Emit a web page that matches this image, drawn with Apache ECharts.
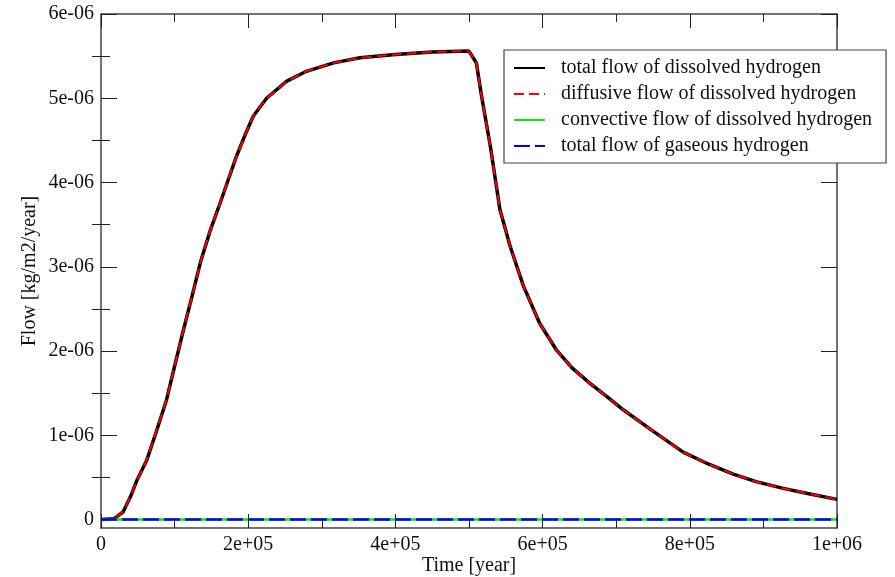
<!DOCTYPE html>
<html>
<head>
<meta charset="utf-8">
<script src="https://cdn.jsdelivr.net/npm/echarts@6/dist/echarts.min.js"></script>
<style>html,body{margin:0;padding:0;background:#fff}#c{width:895px;height:577px}</style>
</head>
<body>
<div id="c"></div>
<script>
// ---- data ----
var time = [0, 1.8e4, 3.0e4, 4.0e4, 4.85e4, 6.2e4, 7.5e4, 8.9e4, 1.0e5, 1.12e5, 1.24e5, 1.35e5, 1.48e5, 1.62e5, 1.74e5, 1.84e5, 1.96e5, 2.07e5, 2.25e5, 2.52e5, 2.79e5, 3.16e5, 3.52e5, 4.0e5, 4.5e5, 5.0e5, 5.1e5, 5.17e5, 5.29e5, 5.42e5, 5.56e5, 5.74e5, 5.96e5, 6.19e5, 6.4e5, 6.64e5, 6.9e5, 7.1e5, 7.5e5, 7.91e5, 8.25e5, 8.59e5, 8.9e5, 9.27e5, 9.6e5, 1.0e6];
var totalDissolved = [0, 0.01e-6, 0.09e-6, 0.27e-6, 0.46e-6, 0.70e-6, 1.04e-6, 1.42e-6, 1.82e-6, 2.25e-6, 2.66e-6, 3.05e-6, 3.42e-6, 3.76e-6, 4.06e-6, 4.31e-6, 4.57e-6, 4.79e-6, 5.00e-6, 5.20e-6, 5.32e-6, 5.42e-6, 5.48e-6, 5.52e-6, 5.55e-6, 5.56e-6, 5.42e-6, 5.03e-6, 4.43e-6, 3.68e-6, 3.24e-6, 2.77e-6, 2.33e-6, 2.01e-6, 1.80e-6, 1.62e-6, 1.44e-6, 1.30e-6, 1.05e-6, 0.80e-6, 0.66e-6, 0.54e-6, 0.45e-6, 0.37e-6, 0.31e-6, 0.24e-6];
var diffusiveDissolved = [0, 0.01e-6, 0.09e-6, 0.27e-6, 0.46e-6, 0.70e-6, 1.04e-6, 1.42e-6, 1.82e-6, 2.25e-6, 2.66e-6, 3.05e-6, 3.42e-6, 3.76e-6, 4.06e-6, 4.31e-6, 4.57e-6, 4.79e-6, 5.00e-6, 5.20e-6, 5.32e-6, 5.42e-6, 5.48e-6, 5.52e-6, 5.55e-6, 5.56e-6, 5.42e-6, 5.03e-6, 4.43e-6, 3.68e-6, 3.24e-6, 2.77e-6, 2.33e-6, 2.01e-6, 1.80e-6, 1.62e-6, 1.44e-6, 1.30e-6, 1.05e-6, 0.80e-6, 0.66e-6, 0.54e-6, 0.45e-6, 0.37e-6, 0.31e-6, 0.24e-6];
var convectiveDissolved = [0, 0, 0, 0, 0, 0, 0, 0, 0, 0, 0, 0, 0, 0, 0, 0, 0, 0, 0, 0, 0, 0, 0, 0, 0, 0, 0, 0, 0, 0, 0, 0, 0, 0, 0, 0, 0, 0, 0, 0, 0, 0, 0, 0, 0, 0];
var totalGaseous = [0, 0, 0, 0, 0, 0, 0, 0, 0, 0, 0, 0, 0, 0, 0, 0, 0, 0, 0, 0, 0, 0, 0, 0, 0, 0, 0, 0, 0, 0, 0, 0, 0, 0, 0, 0, 0, 0, 0, 0, 0, 0, 0, 0, 0, 0];
var seriesNames = ['total flow of dissolved hydrogen', 'diffusive flow of dissolved hydrogen', 'convective flow of dissolved hydrogen', 'total flow of gaseous hydrogen'];
var yMajorTicks = [0, 1e-6, 2e-6, 3e-6, 4e-6, 5e-6, 6e-6];
var yMinorTicks = [5e-7, 1.5e-6, 2.5e-6, 3.5e-6, 4.5e-6, 5.5e-6];
var xMin = 0, xMax = 1e6, xStep = 2e5;
var yMin = -1e-7, yMax = 6e-6, yStep = 1e-7;

function pairs(xs, ys) { return xs.map(function (x, i) { return [x, ys[i]]; }); }
function fmt(v) {
  if (Math.abs(v) < 1e-20) return '0';
  var s = Number(v).toExponential();
  var m = s.match(/^([\-0-9.]+)e([+\-])(\d+)$/);
  var e = m[3].length < 2 ? '0' + m[3] : m[3];
  return m[1] + 'e' + m[2] + e;
}

var FONT = 'Liberation Serif';
var frame = { show: true, onZero: false, lineStyle: { color: '#444', width: 1.5 } };
var tickStyle = { color: '#222', width: 1 };

function yAx(pos, ticks, len, showLine, extra) {
  var a = {
    type: 'value', position: pos, min: yMin, max: yMax, interval: yStep,
    axisLine: showLine ? frame : { show: false },
    axisTick: { show: true, inside: true, length: len, lineStyle: tickStyle, customValues: ticks },
    axisLabel: { show: false, customValues: ticks },
    splitLine: { show: false }
  };
  if (extra) for (var k in extra) a[k] = extra[k];
  return a;
}

var chart = echarts.init(document.getElementById('c'), null, { renderer: 'canvas' });
chart.setOption({
  backgroundColor: '#fff',
  animation: false,
  grid: { left: 101, right: 58, top: 14, bottom: 49, containLabel: false, outerBoundsMode: 'none' },
  legend: {
    orient: 'vertical', left: 504, top: 50,
    backgroundColor: '#fff', borderColor: '#444', borderWidth: 1.2,
    padding: [8, 14, 7, 9], itemGap: 6, itemWidth: 31, itemHeight: 14,
    itemStyle: { opacity: 0 },
    textStyle: { fontFamily: FONT, fontSize: 20, color: '#111', lineHeight: 20, padding: [0, 0, 0, 11] },
    data: seriesNames
  },
  xAxis: [
    {
      type: 'value', position: 'bottom', min: xMin, max: xMax, interval: xStep,
      name: 'Time [year]', nameLocation: 'middle', nameGap: 28, nameMoveOverlap: false,
      nameTextStyle: { fontFamily: FONT, fontSize: 20, color: '#111' },
      axisLine: frame,
      axisTick: { show: true, inside: true, length: 14, lineStyle: tickStyle },
      minorTick: { show: true, splitNumber: 2, length: 8, lineStyle: tickStyle },
      axisLabel: { fontFamily: FONT, fontSize: 20, color: '#111', margin: 7, formatter: fmt },
      splitLine: { show: false }
    },
    {
      type: 'value', position: 'top', min: xMin, max: xMax, interval: xStep,
      axisLine: frame,
      axisTick: { show: true, inside: true, length: 14, lineStyle: tickStyle },
      minorTick: { show: true, splitNumber: 2, length: 8, lineStyle: tickStyle },
      axisLabel: { show: false },
      splitLine: { show: false }
    }
  ],
  yAxis: [
    yAx('left', yMajorTicks, 16, true, {
      name: 'Flow [kg/m2/year]', nameLocation: 'middle', nameGap: 61, nameRotate: 90, nameMoveOverlap: false,
      nameTextStyle: { fontFamily: FONT, fontSize: 20, color: '#111' },
      axisLabel: { show: true, fontFamily: FONT, fontSize: 20, color: '#111', margin: 7, formatter: fmt, customValues: yMajorTicks }
    }),
    yAx('left', yMinorTicks, 9, false),
    yAx('right', yMajorTicks, 16, true),
    yAx('right', yMinorTicks, 9, false)
  ],
  series: [
    {
      name: seriesNames[0], type: 'line', xAxisIndex: 0, yAxisIndex: 0, showSymbol: false, symbol: 'none',
      data: pairs(time, totalDissolved), lineStyle: { color: '#000', width: 3.5 }, itemStyle: { color: '#000' }, z: 2
    },
    {
      name: seriesNames[1], type: 'line', xAxisIndex: 0, yAxisIndex: 0, showSymbol: false, symbol: 'none',
      data: pairs(time, diffusiveDissolved), lineStyle: { color: '#ff0000', width: 2, type: [10, 5] }, itemStyle: { color: '#ff0000' }, z: 3
    },
    {
      name: seriesNames[2], type: 'line', xAxisIndex: 0, yAxisIndex: 0, showSymbol: false, symbol: 'none',
      data: pairs(time, convectiveDissolved), lineStyle: { color: '#00ee00', width: 2.5 }, itemStyle: { color: '#00ee00' }, z: 4
    },
    {
      name: seriesNames[3], type: 'line', xAxisIndex: 0, yAxisIndex: 0, showSymbol: false, symbol: 'none',
      data: pairs(time, totalGaseous), lineStyle: { color: '#0000ff', width: 2.5, type: [16, 5] }, itemStyle: { color: '#0000ff' }, z: 5
    }
  ]
});
</script>
</body>
</html>
